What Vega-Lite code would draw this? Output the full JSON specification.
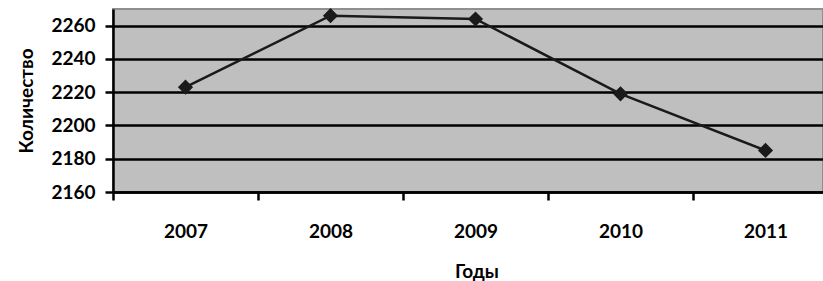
{
  "$schema": "https://vega.github.io/schema/vega-lite/v6.json",
  "width": 710,
  "height": 183,
  "autosize": {"type": "none"},
  "padding": {"left": 113, "top": 9, "right": 0, "bottom": 89},
  "background": "white",
  "config": {
    "view": {"fill": "#bfbfbf", "stroke": "#8f8f8f", "strokeWidth": 2},
    "font": "Lato"
  },
  "data": {
    "values": [
      {"year": 2007, "value": 2223},
      {"year": 2008, "value": 2266},
      {"year": 2009, "value": 2264},
      {"year": 2010, "value": 2219},
      {"year": 2011, "value": 2185}
    ]
  },
  "encoding": {
    "y": {
      "field": "value",
      "type": "quantitative",
      "scale": {"domain": [2160, 2270], "nice": false, "zero": false},
      "axis": {
        "values": [2160, 2180, 2200, 2220, 2240, 2260],
        "format": "d",
        "grid": true,
        "gridColor": "#000000",
        "gridWidth": 2.5,
        "gridOpacity": 1,
        "domainColor": "#000000",
        "domainWidth": 2.5,
        "tickColor": "#000000",
        "tickWidth": 2.5,
        "tickSize": 8,
        "labelPadding": 10,
        "labelFont": "Lato",
        "labelFontSize": 19,
        "labelFontWeight": "bold",
        "labelColor": "#000000",
        "title": "Количество",
        "titleFont": "Lato",
        "titleFontSize": 19,
        "titleFontWeight": "bold",
        "titleColor": "#000000",
        "titleAngle": 270,
        "titleX": -87,
        "titleY": 91.5,
        "titleAlign": "center",
        "titleBaseline": "middle"
      }
    }
  },
  "layer": [
    {
      "mark": {"type": "line", "color": "#1a1a1a", "strokeWidth": 2.5},
      "encoding": {
        "x": {
          "field": "year",
          "type": "quantitative",
          "scale": {"domain": [2006.5, 2011.3966], "nice": false, "zero": false},
          "axis": {
            "orient": "bottom",
            "values": [2007, 2008, 2009, 2010, 2011],
            "format": "d",
            "ticks": false,
            "tickSize": 0,
            "domain": false,
            "grid": false,
            "labelPadding": 30,
            "labelFlush": false,
            "labelOverlap": false,
            "labelFont": "Lato",
            "labelFontSize": 19,
            "labelFontWeight": "bold",
            "labelColor": "#000000",
            "title": "Годы",
            "titleFont": "Lato",
            "titleFontSize": 19,
            "titleFontWeight": "bold",
            "titleColor": "#000000",
            "titleX": 363.5,
            "titleY": 85,
            "titleAlign": "center",
            "titleBaseline": "alphabetic"
          }
        }
      }
    },
    {
      "mark": {"type": "point", "shape": "diamond", "filled": true, "size": 230, "color": "#1a1a1a", "opacity": 1},
      "encoding": {
        "x": {
          "field": "year",
          "type": "quantitative",
          "axis": {
            "orient": "bottom",
            "values": [2006.5, 2007.5, 2008.5, 2009.5, 2010.5],
            "labels": false,
            "title": null,
            "ticks": true,
            "tickSize": 8,
            "tickWidth": 2.5,
            "tickColor": "#000000",
            "domain": true,
            "domainColor": "#000000",
            "domainWidth": 2.5,
            "grid": false
          }
        }
      }
    }
  ],
  "resolve": {"axis": {"x": "independent"}}
}
